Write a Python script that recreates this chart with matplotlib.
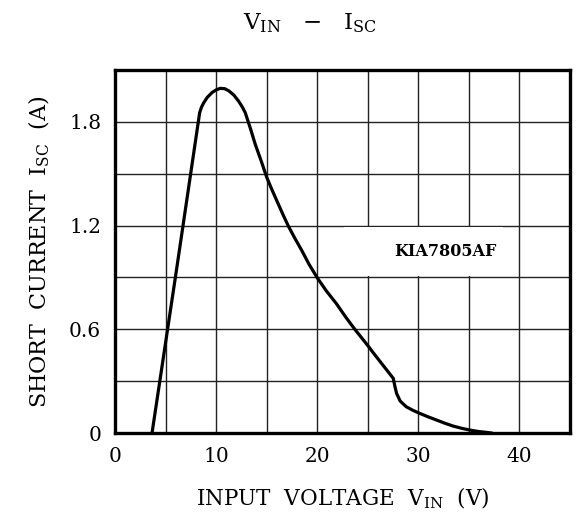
import numpy as np
import matplotlib.pyplot as plt
from matplotlib.patches import Rectangle
from matplotlib.ticker import MultipleLocator

# -------------------------------
# Data
# -------------------------------
vin = [3.66, 6.07, 8.37, 8.55, 8.77, 9.1, 9.6, 10.0, 10.41, 10.85, 11.24,
       11.75, 12.22, 12.6, 12.88, 13.4, 13.87, 14.45, 15.0, 15.5, 16.0,
       16.6, 17.15, 17.8, 18.47, 19.2, 20.0, 20.9, 21.9, 22.8, 23.74, 24.4,
       25.05, 25.7, 26.37, 27.0, 27.52, 27.68, 27.85, 28.2, 28.8, 29.4, 30.0,
       30.9, 31.8, 32.6, 33.45, 34.3, 35.1, 35.9, 36.7, 37.2]
isc = [0.0, 0.94, 1.853, 1.885, 1.91, 1.94, 1.97, 1.985, 1.994, 1.992, 1.98,
       1.955, 1.92, 1.885, 1.853, 1.76, 1.67, 1.575, 1.48, 1.41, 1.344,
       1.265, 1.196, 1.125, 1.056, 0.975, 0.898, 0.822, 0.748, 0.672, 0.598,
       0.55, 0.502, 0.452, 0.402, 0.355, 0.316, 0.27, 0.229, 0.185, 0.152,
       0.133, 0.117, 0.095, 0.075, 0.057, 0.04, 0.027, 0.017, 0.009, 0.004,
       0.0]

x_ticks = [0, 10, 20, 30, 40]
y_ticks = [0, 0.6, 1.2, 1.8]
y_tick_labels = ["0", "0.6", "1.2", "1.8"]
part_name = "KIA7805AF"

plt.rcParams['font.family'] = ['DejaVu Serif']
plt.rcParams['mathtext.fontset'] = 'dejavuserif'

fig = plt.figure(figsize=(5.76, 5.26), dpi=100)
ax = fig.add_axes([0.1997, 0.1768, 0.7899, 0.6901])

ax.plot(vin, isc, color="black", linewidth=2.3, zorder=4,
        solid_joinstyle="round")

ax.set_xlim(0, 45)
ax.set_ylim(0, 2.1)
ax.set_xticks(x_ticks)
ax.set_yticks(y_ticks)
ax.set_yticklabels(y_tick_labels)
ax.xaxis.set_minor_locator(MultipleLocator(5))
ax.yaxis.set_minor_locator(MultipleLocator(0.3))
ax.grid(True, which="both", color="#222222", linewidth=1.0)
ax.tick_params(which="both", length=0, labelsize=14.5, colors="black", pad=10)

for sp in ax.spines.values():
    sp.set_linewidth(2.4)
    sp.set_zorder(5)

# white patch behind the part name (hides grid lines)
ax.add_patch(Rectangle((22.6, 0.91), 15.8, 0.28, facecolor="white",
                       edgecolor="none", zorder=2))
ax.text(32.7, 1.05, part_name, fontsize=11.5, fontweight="bold",
        ha="center", va="center", zorder=3)

ax.set_xlabel(r"INPUT  VOLTAGE  $\mathregular{V_{IN}}$  (V)", fontsize=15.5,
              labelpad=14)
ax.set_ylabel(r"SHORT  CURRENT  $\mathregular{I_{SC}}$  (A)", fontsize=16,
              labelpad=12)
fig.text(0.538, 0.955, r"$\mathregular{V_{IN}}$   $-$   $\mathregular{I_{SC}}$",
         fontsize=16.5, ha="center", va="center")

fig.savefig("out.png", dpi=100)
